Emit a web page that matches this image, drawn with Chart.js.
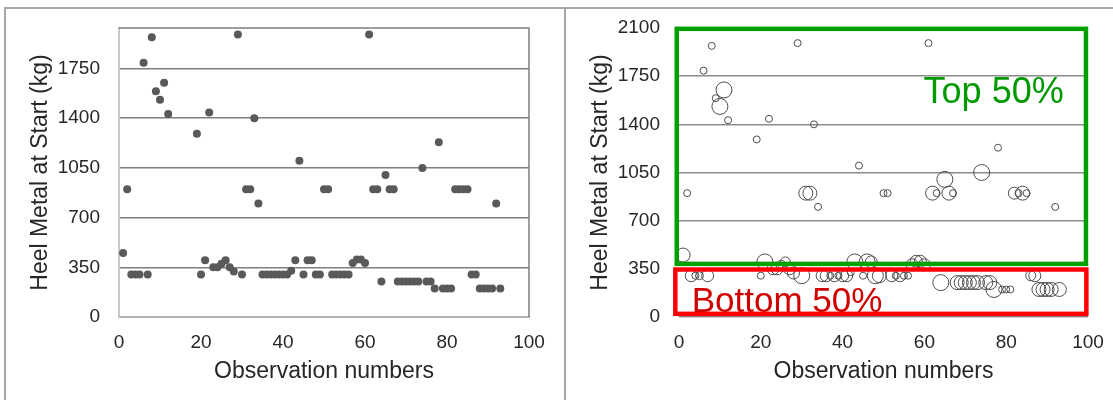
<!DOCTYPE html>
<html>
<head>
<meta charset="utf-8">
<script src="https://cdn.jsdelivr.net/npm/chart.js@4.4.1/dist/chart.umd.min.js"></script>
<style>
  body { margin: 0; background: #fff; width: 1113px; height: 400px; overflow: hidden; position: relative; }
  #frame { position: absolute; left: 4px; top: 7px; width: 1109px; height: 393px; border-top: 2px solid #a6a6a6; border-left: 2px solid #a6a6a6; }
  #divider { position: absolute; left: 564px; top: 7px; width: 2px; height: 393px; background: #a6a6a6; }
  canvas { position: absolute; top: 9px; }
  #left { left: 6px; }
  #right { left: 566px; }
</style>
</head>
<body>
<div id="frame"></div>
<div id="divider"></div>
<canvas id="left" width="558" height="391"></canvas>
<canvas id="right" width="547" height="391"></canvas>
<script>
// observation numbers (13-18 have no record)
const obsNumbers = [1, 2, 3, 4, 5, 6, 7, 8, 9, 10, 11, 12,
  19, 20, 21, 22, 23, 24, 25, 26, 27, 28, 29, 30, 31, 32, 33, 34,
  35, 36, 37, 38, 39, 40, 41, 42, 43, 44, 45, 46, 47, 48, 49, 50, 51,
  52, 53, 54, 55, 56, 57, 58, 59, 60, 61, 62, 63, 64, 65, 66, 67,
  68, 69, 70, 71, 72, 73, 74, 75, 76, 77, 78, 79, 80, 81,
  82, 83, 84, 85, 86, 87, 88, 89, 90, 91, 92, 93];

// heel metal at start (kg)
const heelMetal = [450, 900, 300, 300, 300, 1790, 300, 1970, 1590, 1530, 1650, 1430,
  1290, 300, 400, 1440, 350, 350, 375, 400, 350, 320, 1990, 300, 900, 900, 1400, 800,
  300, 300, 300, 300, 300, 300, 300, 325, 400, 1100, 300, 400, 400, 300, 300, 900, 900,
  300, 300, 300, 300, 300, 380, 405, 405, 380, 1990, 900, 900, 250, 1000, 900, 900,
  250, 250, 250, 250, 250, 250, 1050, 250, 250, 200, 1230, 200, 200, 200,
  900, 900, 900, 900, 300, 300, 200, 200, 200, 200, 800, 200];

// bubble size for the right-hand chart
const bubbleSize = [7, 3.5, 6, 3.5, 4, 3.5, 6, 3.5, 3.5, 8, 8, 3.5,
  3.5, 3.5, 8, 3.5, 6, 6, 5, 5, 6, 6, 3.5, 8, 7, 7, 3.5, 3.5,
  6, 6, 3.5, 6, 3.5, 6, 6, 3.5, 8, 3.5, 3.5, 8, 6, 8, 7, 3.5, 3.5,
  6, 3.5, 6, 3.5, 3.5, 6, 6, 6, 6, 3.5, 7, 3.5, 8, 8, 7, 3.5,
  7, 7, 7, 7, 7, 7, 8, 7, 7, 8, 3.5, 3.5, 3.5, 3.5,
  6, 3.5, 7, 3.5, 5, 6, 7, 7, 7, 7, 3.5, 7];

const xTicks = [0, 20, 40, 60, 80, 100];
const yTicks = [0, 350, 700, 1050, 1400, 1750, 2100];

const FONT = "'Liberation Sans', Arial, sans-serif";

const scatterPoints = obsNumbers.map((o, i) => ({ x: o, y: heelMetal[i] }));
const bubblePoints = obsNumbers.map((o, i) => ({ x: o, y: heelMetal[i], r: bubbleSize[i] }));

function axes(yMax, yGridColor, yBorder, xBorder) {
  return {
    x: {
      type: 'linear', min: 0, max: 100,
      afterBuildTicks: s => { s.ticks = xTicks.map(v => ({ value: v })); },
      afterFit: s => { s.height = 83; s.paddingLeft = 0; s.paddingRight = 0; },
      grid: { display: false, drawTicks: false },
      border: xBorder,
      ticks: { padding: 14, color: '#262626', font: { family: FONT, size: 19 }, callback: v => String(v) },
      title: { display: true, text: 'Observation numbers', color: '#262626',
        font: { family: FONT, size: 23 }, padding: { top: 15, bottom: 15 } }
    },
    y: {
      min: 0, max: yMax,
      afterBuildTicks: s => { s.ticks = yTicks.filter(v => v <= yMax).map(v => ({ value: v })); },
      afterFit: s => { s.width = 113; s.paddingTop = 0; s.paddingBottom = 0; },
      grid: { drawTicks: false, color: yGridColor, lineWidth: 1.5 },
      border: yBorder,
      ticks: { padding: 19, color: '#262626', font: { family: FONT, size: 19 }, callback: v => String(v) },
      title: { display: true, text: 'Heel Metal at Start (kg)', color: '#262626',
        font: { family: FONT, size: 23 }, padding: { top: 21, bottom: 21 } }
    }
  };
}

// top and right frame of the left plot
const plotFrame = {
  id: 'plotFrame',
  afterDraw(chart) {
    const { ctx, chartArea: a } = chart;
    ctx.save();
    ctx.strokeStyle = '#7f7f7f';
    ctx.lineWidth = 1.5;
    ctx.beginPath();
    ctx.moveTo(a.left, a.top);
    ctx.lineTo(a.right, a.top);
    ctx.lineTo(a.right, a.bottom);
    ctx.stroke();
    ctx.restore();
  }
};

new Chart(document.getElementById('left'), {
  type: 'scatter',
  data: {
    datasets: [{
      data: scatterPoints,
      backgroundColor: '#595959',
      borderColor: '#595959',
      pointRadius: 4,
      pointBorderWidth: 0
    }]
  },
  options: {
    responsive: false,
    animation: false,
    layout: { padding: { top: 19, right: 35, left: 0, bottom: 0 } },
    plugins: { legend: { display: false }, tooltip: { enabled: false } },
    scales: axes(2035,
      c => (c.tick && c.tick.value === 0 ? 'rgba(0,0,0,0)' : '#7f7f7f'),
      { display: true, color: '#c8c8c8', width: 2 },
      { display: true, color: '#b0b0b0', width: 2 })
  },
  plugins: [plotFrame]
});

// green / red boxes with labels on the right plot
const halfBoxes = {
  id: 'halfBoxes',
  afterDatasetsDraw(chart) {
    const { ctx, scales: { x, y } } = chart;
    const box = (x0, x1, y0, y1, color) => {
      ctx.strokeStyle = color;
      ctx.lineWidth = 4.5;
      ctx.strokeRect(x.getPixelForValue(x0), y.getPixelForValue(y1),
        x.getPixelForValue(x1) - x.getPixelForValue(x0),
        y.getPixelForValue(y0) - y.getPixelForValue(y1));
    };
    ctx.save();
    box(-0.55, 99.5, 386, 2094, '#00a000');
    box(-0.9, 99.6, 23, 345, '#ff0000');
    ctx.textBaseline = 'alphabetic';
    ctx.textAlign = 'left';
    ctx.font = "36px " + FONT;
    ctx.fillStyle = '#009900';
    ctx.fillText('Top 50%', x.getPixelForValue(59.8), y.getPixelForValue(1556));
    ctx.font = "35px " + FONT;
    ctx.fillStyle = '#d00000';
    ctx.fillText('Bottom 50%', x.getPixelForValue(3.1), y.getPixelForValue(34));
    ctx.restore();
  }
};

new Chart(document.getElementById('right'), {
  type: 'bubble',
  data: {
    datasets: [{
      data: bubblePoints,
      backgroundColor: 'rgba(0,0,0,0)',
      borderColor: '#4d4d4d',
      borderWidth: 1
    }]
  },
  options: {
    responsive: false,
    animation: false,
    layout: { padding: { top: 19, right: 25, left: 0, bottom: 0 } },
    plugins: { legend: { display: false }, tooltip: { enabled: false } },
    scales: axes(2100, '#8c8c8c',
      { display: false },
      { display: false })
  },
  plugins: [halfBoxes]
});
</script>
</body>
</html>
